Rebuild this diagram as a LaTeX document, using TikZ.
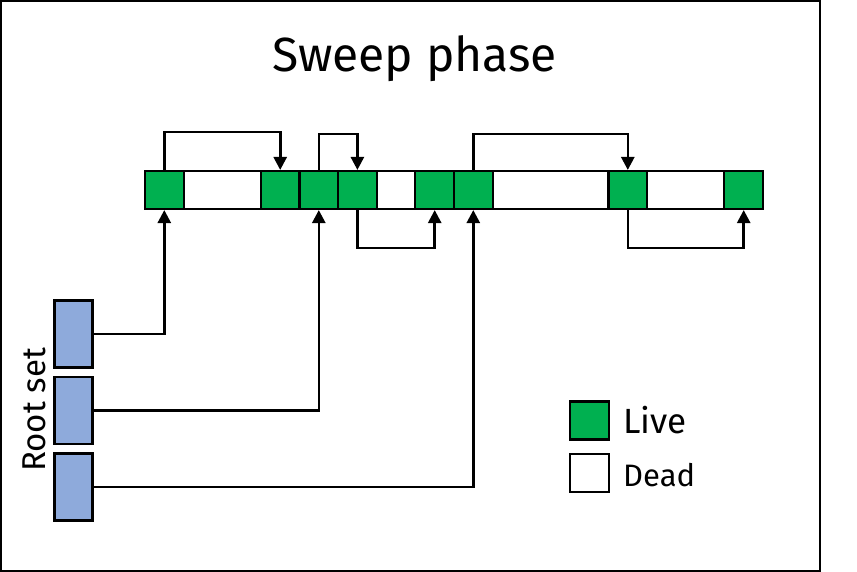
\documentclass[tikz,border=0pt]{standalone}
\usepackage{fontspec}
\setmainfont{Fira Sans}
\usetikzlibrary{arrows.meta,positioning}
\definecolor{livegreen}{RGB}{0,176,80}
\definecolor{rootblue}{RGB}{142,170,219}

\begin{document}
\begin{tikzpicture}[x=1pt, y=-1pt,
  cell/.style={draw, line width=2.1pt, minimum height=38pt, minimum width=38.6pt, inner sep=0pt},
  live/.style={cell, fill=livegreen},
  dead/.style={cell, fill=white},
  root/.style={draw, line width=2.1pt, fill=rootblue, minimum width=38pt, minimum height=67pt, inner sep=0pt},
  link/.style={line width=2.6pt, -{Triangle[width=13pt,length=13pt]}},
]
\useasboundingbox (0,0) rectangle (857,572);
\draw[line width=2.2pt] (1,1) rectangle (820,571);
\node[font=\fontsize{48}{56}\selectfont, anchor=base] (title) at (414.5,72) {Sweep phase};
% heap cells
\node[live] (c0) at (164.3,190) {};
\node[dead, minimum width=77.25pt] (d1) at (222.25,190) {};
\node[live] (c3) at (280.2,190) {};
\node[live] (c4) at (318.8,190) {};
\node[live] (c5) at (357.4,190) {};
\node[dead] (d6) at (395.9,190) {};
\node[live] (c7) at (434.7,190) {};
\node[live] (c8) at (473.3,190) {};
\node[dead, minimum width=115.9pt] (d9) at (550.6,190) {};
\node[live] (c12) at (627.8,190) {};
\node[dead, minimum width=77.25pt] (d13) at (685.75,190) {};
\node[live] (c15) at (743.7,190) {};
% root set
\node[root] (r1) at (73.5,334) {};
\node[root] (r2) at (73.5,410.5) {};
\node[root] (r3) at (73.5,487) {};
\node[rotate=90, anchor=base, font=\fontsize{33}{40}\selectfont] (rootlabel) at (45,410) {Root set};
% pointers
\draw[link] (c0.north) -- ++(0,-38) -| (c3.north);
\draw[link] (c4.north) -- ++(0,-36) -| (c5.north);
\draw[link] (c8.north) -- ++(0,-36) -| (c12.north);
\draw[link] (c5.south) -- ++(0,38) -| (c7.south);
\draw[link] (c12.south) -- ++(0,38) -| (c15.south);
\draw[link] (r1.east) -| (c0.south);
\draw[link] (r2.east) -| (c4.south);
\draw[link] (r3.east) -| (c8.south);
% legend
\node[live] (keylive) at (589.5,420.5) {};
\node[dead] (keydead) at (589.5,473) {};
\node[anchor=base west, inner sep=0pt, font=\fontsize{35}{42}\selectfont] (livetext) at (623,433) {Live};
\node[anchor=base west, inner sep=0pt, font=\fontsize{31}{38}\selectfont] (deadtext) at (623,486) {Dead};
\end{tikzpicture}
\end{document}
